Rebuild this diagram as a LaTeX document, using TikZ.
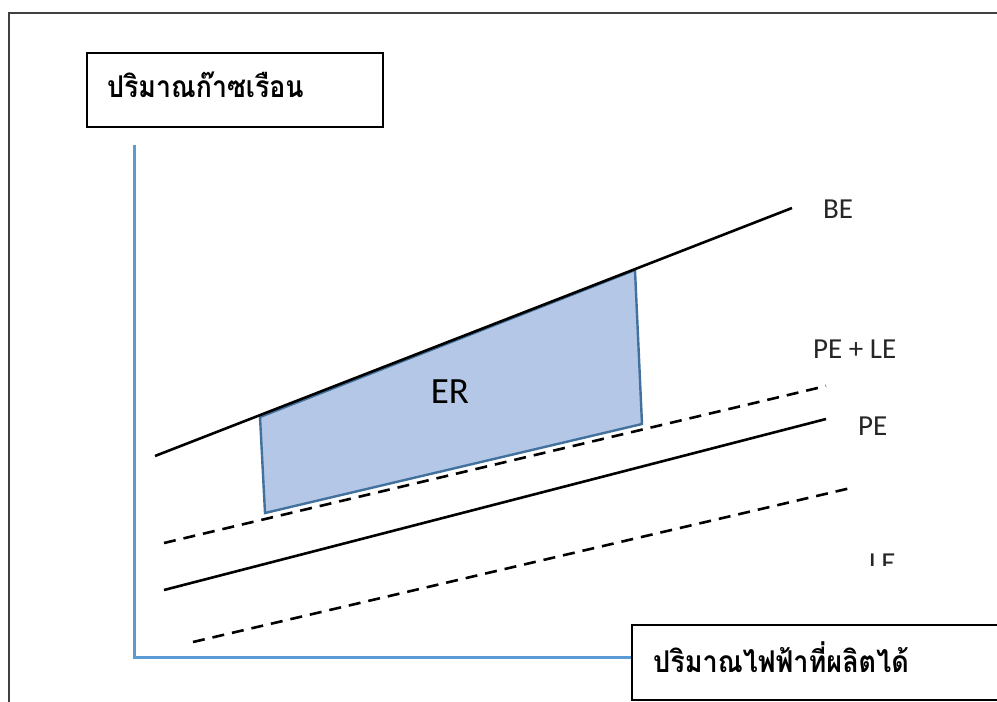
\documentclass[tikz,border=0pt]{standalone}
\usepackage{fontspec}
\setmainfont{Carlito}
\newfontfamily\thaifont[Script=Thai]{Loma}
\definecolor{axisblue}{HTML}{5B9BD5}
\definecolor{erfill}{HTML}{B4C7E7}
\definecolor{erline}{HTML}{41719C}
\definecolor{framegray}{HTML}{404040}
\begin{document}
\begin{tikzpicture}[x=1pt,y=-1pt,
  curve/.style={line width=2.6pt,black},
  dcurve/.style={line width=2.6pt,black,dash pattern=on 12pt off 8pt},
  lbl/.style={font=\fontsize{29}{32}\selectfont,text=black!85,inner sep=0pt,anchor=base west},
  thailbl/.style={inner sep=0pt,anchor=base west,font=\thaifont\bfseries\fontsize{30}{34}\selectfont},
  labelbox/.style={draw=black,line width=1.5pt,fill=white}]
\useasboundingbox (0,0) rectangle (997,702);
% outer frame
\draw[framegray,line width=2pt] (9,710) -- (9,13) -- (1005,13);
% y label box
\draw[labelbox] (87,53) rectangle (383,127);
\node[thailbl] (ylab) at (107,97) {\scalebox{0.89}[1]{ปริมาณก๊าซเรือน}};
% axes
\coordinate (ytop) at (134,145);
\coordinate (origin) at (134,657);
\coordinate (xend) at (632,657);
\draw[axisblue,line width=3pt] (ytop) -- (origin) -- (xend);
% x label box
\draw[labelbox] (632,625) rectangle (1005,700);
\node[thailbl] (xlab) at (653,672) {\scalebox{0.9}[1]{ปริมาณไฟฟ้าที่ผลิตได้}};
% ER region
\filldraw[fill=erfill,draw=erline,line width=2.4pt] (260,417) -- (635,270) -- (642,424) -- (265,513) -- cycle;
\node[font=\fontsize{37}{40}\selectfont,inner sep=0pt] (er) at (450,392) {ER};
% lines
\draw[curve] (155,456) -- (792,208);
\draw[dcurve] (164,543) -- (826,386);
\draw[curve] (164,590) -- (826,419);
\draw[dcurve] (193,642) -- (855,487);
% labels
\node[lbl] (be) at (823,218) {BE};
\node[lbl] (pele) at (813,358) {PE + LE};
\node[lbl] (pe) at (858,435) {PE};
\begin{scope}
\clip (800,530) rectangle (950,565);
\node[lbl] (le) at (869,572) {LE};
\end{scope}
\end{tikzpicture}
\end{document}
